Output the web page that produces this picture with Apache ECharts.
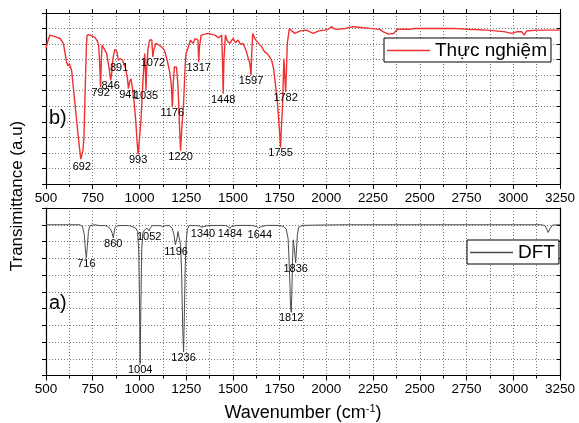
<!DOCTYPE html>
<html>
<head>
<meta charset="utf-8">
<script src="https://cdn.jsdelivr.net/npm/echarts@6/dist/echarts.min.js"></script>
<style>
html,body{margin:0;padding:0;background:#fff;}
#c{width:579px;height:423px;}
</style>
</head>
<body>
<div id="c"></div>
<script>
// ---------- data ----------
var xTicks = [500, 750, 1000, 1250, 1500, 1750, 2000, 2250, 2500, 2750, 3000, 3250];

var expName = 'Thực nghiệm';
var dftName = 'DFT';

// experimental spectrum (wavenumber, transmittance a.u.)
var expWn = [500,510,521,545,575,593,610,618,625,637,655,673,686,692,698,703,710,716,720,735,760,775,782,787,792,796,800,808,825,838,846,852,860,868,880,887,891,898,910,923,935,941,948,955,964,972,980,988,993,998,1008,1016,1022,1028,1032,1035,1039,1045,1054,1066,1070,1072,1076,1088,1106,1120,1134,1145,1152,1162,1170,1176,1181,1187,1198,1205,1210,1215,1220,1226,1236,1244,1249,1262,1273,1286,1298,1313,1317,1321,1330,1367,1403,1425,1440,1444,1448,1452,1460,1470,1484,1500,1515,1527,1540,1554,1570,1580,1590,1597,1601,1606,1615,1627,1640,1654,1670,1684,1695,1707,1718,1725,1733,1739,1747,1755,1760,1766,1770,1773,1777,1782,1786,1791,1802,1815,1832,1860,1893,1910,1929,1960,1991,2010,2027,2040,2054,2100,2143,2200,2233,2286,2305,2332,2360,2380,2447,2456,2465,2550,2679,2760,2857,2950,2991,3018,3045,3059,3071,3125,3250];
var expT  = [87.2,92,95.8,95,93.6,90.4,78.5,76,77.5,73.1,51.6,30.0,16,14.9,22,30,62.3,88,95.8,95.8,94.5,92,89,78,62.3,80,89.3,90.4,83.9,74,66.7,72,82,86.5,85,79.6,78.5,80.7,79.6,75.3,68.8,61.3,66,67.7,60.2,52,40.8,26,19.2,26,40.8,60,73.1,83.9,72,60.2,75,86.1,92.6,92.6,85,81.8,86,90.4,89.3,88,86.1,81,77.5,72,64.5,49.4,65,75.3,75.3,65,51.6,35,21.4,35,51.6,75,83.9,88.2,92.6,90.4,93.6,92.6,78.5,88,95.8,96.9,95.8,94,95.8,80,58.0,80,95.8,92,90.4,93.6,91,92.6,90,90.4,86,81.8,78,69.9,85,96.9,94,91.9,90,88.2,85,83.9,82,79.6,74,66.7,58,51.6,38,23.5,38,51.6,70,80.7,70,59.1,72,90.4,100.1,98.5,96.9,98.5,99.0,98,96.9,98.5,99.0,99.5,101.2,100,99.5,100,101.2,100.5,100.1,99.5,97.9,96.4,96.8,99.5,99.5,98.4,100.1,100,100.1,99.5,99.0,98,96.9,97.9,98,95.8,98.4,99.0,99.0];

// DFT spectrum
var dftWn = [500,680,695,705,710,716,721,727,735,760,790,800,815,830,845,854,860,864,870,885,940,960,980,990,996,1000,1004,1008,1012,1018,1025,1032,1040,1046,1052,1058,1070,1090,1100,1112,1125,1140,1160,1175,1185,1192,1196,1201,1206,1212,1220,1226,1231,1236,1240,1245,1250,1256,1265,1300,1320,1335,1340,1346,1370,1420,1460,1475,1484,1492,1520,1600,1625,1638,1644,1652,1680,1740,1770,1785,1795,1800,1805,1808,1812,1815,1819,1823,1828,1832,1836,1840,1845,1852,1870,1950,2100,3150,3170,3180,3187,3195,3210,3250];
var dftT  = [90,90,89,84,76,70.2,77,86,89.5,90,89.5,88.8,89.5,89,87.5,85,82.1,85,88.5,89.5,89.5,89,88,86,75,45,7.1,45,75,85,86.5,87,88,87.5,86.3,88,89.5,89.5,88.8,89.5,88.8,89.5,89.5,88,84,78,77.1,82,86,85,78,60,30,14,35,65,80,87,89.5,89.5,89.3,88.6,88,89,89.5,89.6,89.5,89,87.8,89,89.6,89.6,89,88,87.2,89,89.6,89.6,89,87.5,82,70,55,42,37.7,48,68,81,80,72,67.3,75,84,88.5,89.6,89.8,90,90,89.5,87,85.4,87.5,89.8,90];

// annotated peaks
var expPeaks = [692, 792, 846, 891, 941, 993, 1035, 1072, 1176, 1220, 1317, 1448, 1597, 1755, 1782];
var dftPeaks = [716, 860, 1004, 1052, 1196, 1236, 1340, 1484, 1644, 1812, 1836];

// ---------- styling helpers (label nudges, not data) ----------
var expNudge = {692:[0,1.5],792:[-2,2],846:[1,-1.5],891:[3,1.5],941:[0,-0.5],993:[-2,4.5],1035:[4,4.5],1072:[3,-0.5],1176:[-2,0],1220:[0,-0.5],1317:[1.5,0],1448:[0,-1],1597:[0,1],1755:[0,-0.5],1782:[7,1]};
var dftNudge = {716:[0,0],860:[4,0],1004:[0,0],1052:[2.5,3.5],1196:[0,0],1236:[0,1],1340:[-1,-1.5],1484:[1,2],1644:[8.5,2.5],1812:[2,-0.5],1836:[2.5,1]};

function zip(a, b) { return a.map(function (v, i) { return [v, b[i]]; }); }
function peakPoint(wns, ts, wn) {
  var best = Infinity;
  for (var i = 0; i < wns.length; i++) {
    if (Math.abs(wns[i] - wn) <= 6 && ts[i] < best) best = ts[i];
  }
  return best;
}
function peakData(peaks, wns, ts, nudge) {
  return peaks.map(function (p) {
    var n = nudge[p] || [0, 0];
    return { value: [p, peakPoint(wns, ts, p)], label: { offset: n } };
  });
}

var FONT = '"Liberation Sans", Arial, sans-serif';
var gridLine = { show: true, lineStyle: { color: '#777', type: [1, 2], width: 1 } };

function xAxisBottom(gi, withName) {
  var ax = {
    type: 'value', gridIndex: gi, position: 'bottom', min: 500, max: 3250, interval: 250,
    axisLine: { show: true, onZero: false, lineStyle: { color: '#000', width: 1.2 } },
    axisTick: { show: true, inside: false, length: 5, lineStyle: { color: '#000' } },
    minorTick: { show: true, splitNumber: 2, length: 3, lineStyle: { color: '#000' } },
    axisLabel: { show: true, fontSize: 13.5, color: '#000', fontFamily: FONT, margin: 7,
      formatter: function (v) { return xTicks.indexOf(v) >= 0 ? String(v) : ''; } },
    splitLine: gridLine,
    minorSplitLine: gridLine
  };
  if (withName) {
    ax.name = 'Wavenumber (cm{sup|-1})';
    ax.nameLocation = 'middle';
    ax.nameGap = 28;
    ax.nameTextStyle = { fontSize: 18, color: '#000', fontFamily: FONT,
      rich: { sup: { fontSize: 11, verticalAlign: 'top', padding: [0, 0, 8, 0], color: '#000', fontFamily: FONT } } };
  }
  return ax;
}
function xAxisTop(gi, ticks) {
  return {
    type: 'value', gridIndex: gi, position: 'top', min: 500, max: 3250, interval: 250,
    axisLine: { show: true, onZero: false, lineStyle: { color: '#000', width: 1.2 } },
    axisTick: { show: ticks, inside: false, length: 4, lineStyle: { color: '#000' } },
    minorTick: { show: ticks, splitNumber: 2, length: 3, lineStyle: { color: '#000' } },
    axisLabel: { show: false }, splitLine: { show: false }
  };
}
function yAxisLeft(gi, max) {
  return {
    type: 'value', gridIndex: gi, position: 'left', min: 0, max: max, interval: 10,
    axisLine: { show: true, onZero: false, lineStyle: { color: '#000', width: 1.2 } },
    axisTick: { show: true, inside: false, length: 4, lineStyle: { color: '#000' } },
    axisLabel: { show: false },
    splitLine: gridLine
  };
}
function yAxisRight(gi, max) {
  return {
    type: 'value', gridIndex: gi, position: 'right', min: 0, max: max, interval: 10,
    axisLine: { show: true, onZero: false, lineStyle: { color: '#000', width: 1.2 } },
    axisTick: { show: true, inside: true, length: 3, lineStyle: { color: '#000' } },
    axisLabel: { show: false }, splitLine: { show: false }
  };
}

var peakLabel = { show: true, position: 'bottom', distance: 0, fontSize: 11, color: '#000', opacity: 1,
  textBorderWidth: 0, fontFamily: FONT,
  formatter: function (p) { return String(p.value[0]); } };

var legendBase = { itemWidth: 43, itemHeight: 1.3, itemGap: 0, icon: 'rect',
  backgroundColor: '#fff', borderColor: '#000', borderWidth: 1, borderRadius: 0,
  padding: [3, 4, 2, 3], textStyle: { fontSize: 19, color: '#000', fontFamily: FONT } };

var option = {
  animation: false,
  backgroundColor: '#fff',
  textStyle: { fontFamily: FONT },
  grid: [
    { left: 46, top: 13, width: 514, height: 171 },
    { left: 46, top: 208, width: 514, height: 169 }
  ],
  xAxis: [ xAxisBottom(0, false), xAxisTop(0, true), xAxisBottom(1, true), xAxisTop(1, false) ],
  yAxis: [ yAxisLeft(0, 110), yAxisRight(0, 110), yAxisLeft(1, 100), yAxisRight(1, 100) ],
  legend: [
    Object.assign({}, legendBase, { data: [expName], left: 384, top: 38 }),
    Object.assign({}, legendBase, { data: [dftName], left: 467, top: 240 })
  ],
  graphic: [
    { type: 'text', left: 49, top: 108, style: { text: 'b)', fontSize: 20, fill: '#000', fontFamily: FONT } },
    { type: 'text', left: 49, top: 293, style: { text: 'a)', fontSize: 20, fill: '#000', fontFamily: FONT } },
    { type: 'text', x: 17, y: 196, rotation: Math.PI / 2,
      style: { text: 'Transimittance (a.u)', fontSize: 17, fill: '#000', fontFamily: FONT, align: 'center', verticalAlign: 'middle' } }
  ],
  series: [
    { name: expName, type: 'line', xAxisIndex: 0, yAxisIndex: 0, data: zip(expWn, expT),
      symbol: 'none', smooth: false, lineStyle: { color: '#f03030', width: 1.4 }, itemStyle: { color: '#f03030' }, z: 3 },
    { name: dftName, type: 'line', xAxisIndex: 2, yAxisIndex: 2, data: zip(dftWn, dftT),
      symbol: 'none', smooth: false, lineStyle: { color: '#4a4a4a', width: 1 }, itemStyle: { color: '#4a4a4a' }, z: 3 },
    { type: 'scatter', xAxisIndex: 0, yAxisIndex: 0, silent: true, symbolSize: 1,
      itemStyle: { color: 'rgba(0,0,0,0)' }, label: peakLabel, labelLayout: { hideOverlap: false },
      emphasis: { disabled: true }, data: peakData(expPeaks, expWn, expT, expNudge), z: 4 },
    { type: 'scatter', xAxisIndex: 2, yAxisIndex: 2, silent: true, symbolSize: 1,
      itemStyle: { color: 'rgba(0,0,0,0)' }, label: peakLabel, labelLayout: { hideOverlap: false },
      emphasis: { disabled: true }, data: peakData(dftPeaks, dftWn, dftT, dftNudge), z: 4 }
  ]
};

var chart = echarts.init(document.getElementById('c'), null, { renderer: 'canvas' });
chart.setOption(option);
</script>
</body>
</html>
